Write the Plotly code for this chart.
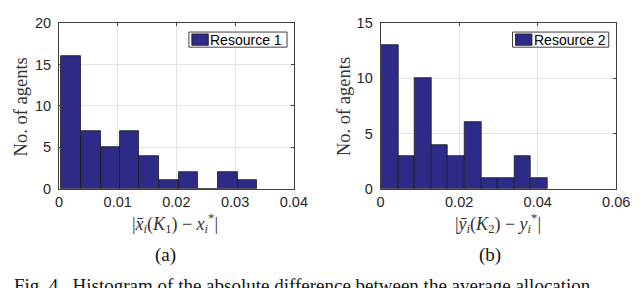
import plotly.graph_objects as go

# ---- data ----
edges1 = [0.0004, 0.0037, 0.0071, 0.0104, 0.0137, 0.0171, 0.0204, 0.0237, 0.0270, 0.0304, 0.0337]
counts1 = [16, 7, 5, 7, 4, 1, 2, 0, 2, 1]
edges2 = [0.00017, 0.00446, 0.00866, 0.01297, 0.01718, 0.02139, 0.0256, 0.02987, 0.03408, 0.03829, 0.04242]
counts2 = [13, 3, 10, 4, 3, 6, 1, 1, 3, 1]
name1 = "Resource 1"
name2 = "Resource 2"
xticks1 = [0, 0.01, 0.02, 0.03, 0.04]
xticklabels1 = ["0", "0.01", "0.02", "0.03", "0.04"]
yticks1 = [0, 5, 10, 15, 20]
xticks2 = [0, 0.02, 0.04, 0.06]
xticklabels2 = ["0", "0.02", "0.04", "0.06"]
yticks2 = [0, 5, 10, 15]
ylabel = "No. of agents"
xlabel1 = "|<i>x̄</i><sub><i>i</i></sub>(<i>K</i><sub>1</sub>) − <i>x</i><sub><i>i</i></sub><sup>*</sup>|"
xlabel2 = "|<i>ȳ</i><sub><i>i</i></sub>(<i>K</i><sub>2</sub>) − <i>y</i><sub><i>i</i></sub><sup>*</sup>|"
sub1 = "(a)"
sub2 = "(b)"
caption = "Fig. 4.  Histogram of the absolute difference between the average allocation"

W, H = 640, 288
BAR = "#2e2a88"
EDGE = "#1c1c1c"
AX = "#404040"
GRID = "#e3e3e3"
TICKFONT = dict(family="Liberation Sans, Arial, sans-serif", size=14.5, color="#262626")
SERIF = "Liberation Serif, Times New Roman, serif"


def px(x):
    return x / W


def py(y):
    return 1 - y / H


fig = go.Figure()

for edges, counts, name, xa, ya in [
    (edges1, counts1, name1, "x", "y"),
    (edges2, counts2, name2, "x2", "y2"),
]:
    fig.add_trace(go.Bar(
        x=edges[:-1],
        y=counts,
        width=[edges[i + 1] - edges[i] for i in range(len(counts))],
        offset=0,
        marker=dict(color=BAR, line=dict(color=EDGE, width=0.8)),
        name=name,
        showlegend=False,
        xaxis=xa, yaxis=ya,
    ))

ydom = [py(183), py(7.5)]
common_axis = dict(
    showline=True, linecolor=AX, linewidth=1, mirror="ticks",
    ticks="inside", ticklen=3, tickcolor=AX,
    showgrid=True, gridcolor=GRID, gridwidth=1,
    zeroline=False, tickfont=TICKFONT, ticklabeloverflow="allow",
)

fig.update_layout(
    width=W, height=H,
    margin=dict(l=0, r=0, t=0, b=0),
    paper_bgcolor="white", plot_bgcolor="white",
    bargap=0,
    xaxis=dict(domain=[px(48.3), px(290)], range=[0, 0.04], tickvals=xticks1,
               ticktext=xticklabels1, anchor="y", ticklabelstandoff=0, **common_axis),
    yaxis=dict(domain=ydom, range=[0, 20], tickvals=yticks1, anchor="x",
               ticklabelstandoff=4, **common_axis),
    xaxis2=dict(domain=[px(379.3), px(621.7)], range=[0, 0.06], tickvals=xticks2,
                ticktext=xticklabels2, anchor="y2", ticklabelstandoff=0, **common_axis),
    yaxis2=dict(domain=ydom, range=[0, 15], tickvals=yticks2, anchor="x2",
                ticklabelstandoff=4, **common_axis),
)

annotations = []
shapes = []

# y labels
for xc in [9, 341]:
    annotations.append(dict(
        text=ylabel, x=px(xc), y=py(96), xref="paper", yref="paper",
        xanchor="center", yanchor="middle", textangle=-90, showarrow=False,
        font=dict(family=SERIF, size=18.5, color="#333333"),
    ))

# x labels
for xc, lab in [(168, xlabel1), (500, xlabel2)]:
    annotations.append(dict(
        text=lab, x=px(xc), y=py(220), xref="paper", yref="paper",
        xanchor="center", yanchor="middle", showarrow=False,
        font=dict(family=SERIF, size=18, color="#333333"),
    ))

# sub-figure labels
for xc, lab in [(158, sub1), (492, sub2)]:
    annotations.append(dict(
        text=lab, x=px(xc), y=py(253), xref="paper", yref="paper",
        xanchor="center", yanchor="middle", showarrow=False,
        font=dict(family=SERIF, size=19, color="#111111"),
    ))

# caption (cut by the bottom edge, as in the reference)
annotations.append(dict(
    text=caption, x=px(0), y=py(272), xref="paper", yref="paper",
    xanchor="left", yanchor="top", showarrow=False,
    font=dict(family=SERIF, size=19, color="#111111"),
))

# legends
for (bx0, bx1), name in [((182, 283), name1), ((515, 614), name2)]:
    shapes.append(dict(type="rect", xref="paper", yref="paper",
                       x0=px(bx0), x1=px(bx1), y0=py(33), y1=py(17),
                       line=dict(color=AX, width=1), fillcolor="white", layer="above"))
    shapes.append(dict(type="rect", xref="paper", yref="paper",
                       x0=px(bx0 + 3), x1=px(bx0 + 20), y0=py(31), y1=py(19),
                       line=dict(color=EDGE, width=0.8), fillcolor=BAR, layer="above"))
    annotations.append(dict(
        text=name, x=px(bx0 + 20), y=py(25), xref="paper", yref="paper",
        xanchor="left", yanchor="middle", showarrow=False,
        font=dict(family="Liberation Sans, Arial, sans-serif", size=14, color="#000000"),
    ))

fig.update_layout(annotations=annotations, shapes=shapes)
fig.write_html("out.html")
